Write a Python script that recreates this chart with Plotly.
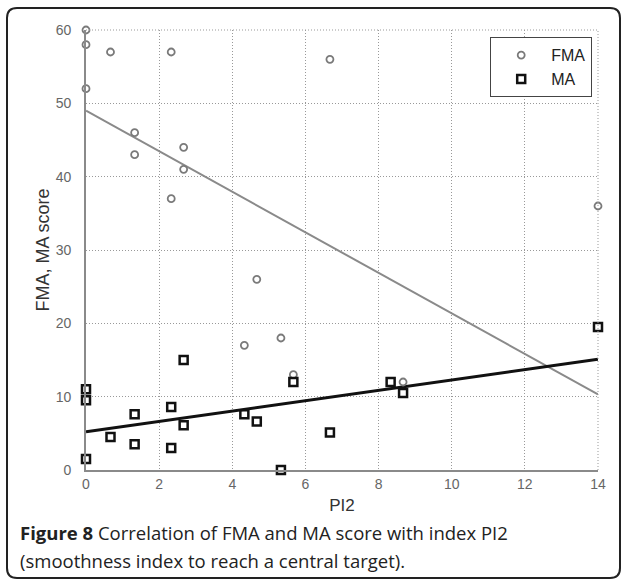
import plotly.graph_objects as go

# ---- data ----
fma_x = [0, 0, 0, 0.67, 2.33, 1.33, 1.33, 2.67, 2.67, 2.33, 6.67, 14, 4.67, 4.33, 5.33, 5.67, 8.67]
fma_y = [60, 58, 52, 57, 57, 46, 43, 44, 41, 37, 56, 36, 26, 17, 18, 13, 12]
ma_x = [0, 0, 0, 0.67, 1.33, 1.33, 2.33, 2.33, 2.67, 2.67, 4.33, 4.67, 5.33, 5.67, 6.67, 8.33, 8.67, 14]
ma_y = [11, 9.5, 1.5, 4.5, 7.6, 3.5, 8.6, 3.0, 15, 6.1, 7.6, 6.6, 0, 12, 5.1, 12, 10.5, 19.5]
fit_x = [0, 14]
fma_fit = [49.0, 10.3]
ma_fit = [5.2, 15.1]
x_ticks = [0, 2, 4, 6, 8, 10, 12, 14]
y_ticks = [0, 10, 20, 30, 40, 50, 60]

W, H = 624, 583
L, R, T, B = 86, 26, 30, 113
PW, PH = W - L - R, H - T - B


def px(x):
    return (x - L) / PW


def py(y):
    return (H - B - y) / PH


fig = go.Figure()
fig.add_trace(go.Scatter(x=fit_x, y=fma_fit, mode="lines", showlegend=False,
                         line=dict(color="#8a8a8a", width=2), hoverinfo="skip"))
fig.add_trace(go.Scatter(x=fit_x, y=ma_fit, mode="lines", showlegend=False,
                         line=dict(color="#111111", width=3), hoverinfo="skip"))
fig.add_trace(go.Scatter(x=fma_x, y=fma_y, mode="markers", name="FMA", cliponaxis=False,
                         marker=dict(symbol="circle-open", size=7, color="#7a7a7a",
                                     line=dict(width=1.8, color="#7a7a7a"))))
fig.add_trace(go.Scatter(x=ma_x, y=ma_y, mode="markers", name="MA", cliponaxis=False,
                         marker=dict(symbol="square-open", size=8, color="#111111",
                                     line=dict(width=2.5, color="#111111"))))

axis_common = dict(showgrid=True, gridcolor="#999999", griddash="1px,2px", gridwidth=1,
                   showline=True, linecolor="#8a8a8a", linewidth=1.6, zeroline=False,
                   ticks="", tickfont=dict(family="Liberation Sans, Arial", size=14, color="#666666"))

fig.update_xaxes(range=[0, 14], tickvals=x_ticks, **axis_common,
                 title=dict(text="PI2", font=dict(family="Liberation Sans, Arial", size=17, color="#333333"),
                            standoff=9))
fig.update_yaxes(range=[0, 60], tickvals=y_ticks, **axis_common, ticklabelstandoff=10,
                 title=dict(text="FMA, MA score", font=dict(family="Liberation Sans, Arial", size=18, color="#333333"),
                            standoff=2))

# top/right dotted border lines
fig.add_shape(type="line", xref="paper", yref="paper", x0=0, x1=1, y0=1, y1=1,
              line=dict(color="#999999", width=1, dash="1px,2px"))
fig.add_shape(type="line", xref="paper", yref="paper", x0=1, x1=1, y0=0, y1=1,
              line=dict(color="#999999", width=1, dash="1px,2px"))

# outer rounded frame
x0, x1, y0, y1, r = 7, 620, 8, 578, 10
path = (f"M {px(x0+r)} {py(y0)} L {px(x1-r)} {py(y0)} Q {px(x1)} {py(y0)} {px(x1)} {py(y0+r)} "
        f"L {px(x1)} {py(y1-r)} Q {px(x1)} {py(y1)} {px(x1-r)} {py(y1)} "
        f"L {px(x0+r)} {py(y1)} Q {px(x0)} {py(y1)} {px(x0)} {py(y1-r)} "
        f"L {px(x0)} {py(y0+r)} Q {px(x0)} {py(y0)} {px(x0+r)} {py(y0)} Z")
fig.add_shape(type="path", xref="paper", yref="paper", path=path,
              line=dict(color="#222222", width=2))

cap_font = dict(family="Open Sans, Noto Sans", size=18.5, color="#222222")
fig.add_annotation(xref="paper", yref="paper", x=px(18), y=py(532), xanchor="left", yanchor="middle",
                   showarrow=False, font=cap_font,
                   text="<b>Figure 8</b> Correlation of FMA and MA score with index PI2")
fig.add_annotation(xref="paper", yref="paper", x=px(18), y=py(560), xanchor="left", yanchor="middle",
                   showarrow=False, font=cap_font,
                   text="(smoothness index to reach a central target).")

fig.update_layout(
    width=W, height=H, margin=dict(l=L, r=R, t=T, b=B),
    paper_bgcolor="white", plot_bgcolor="white",
    legend=dict(x=px(490), y=py(37), xanchor="left", yanchor="top",
                bgcolor="white", bordercolor="#444444", borderwidth=1.2,
                font=dict(family="Liberation Sans, Arial", size=16, color="#222222"),
                tracegroupgap=0, itemwidth=50),
)

fig.write_html("out.html", config={"displayModeBar": False},
               post_script="document.body.style.margin='0px';document.body.style.overflow='hidden';")
